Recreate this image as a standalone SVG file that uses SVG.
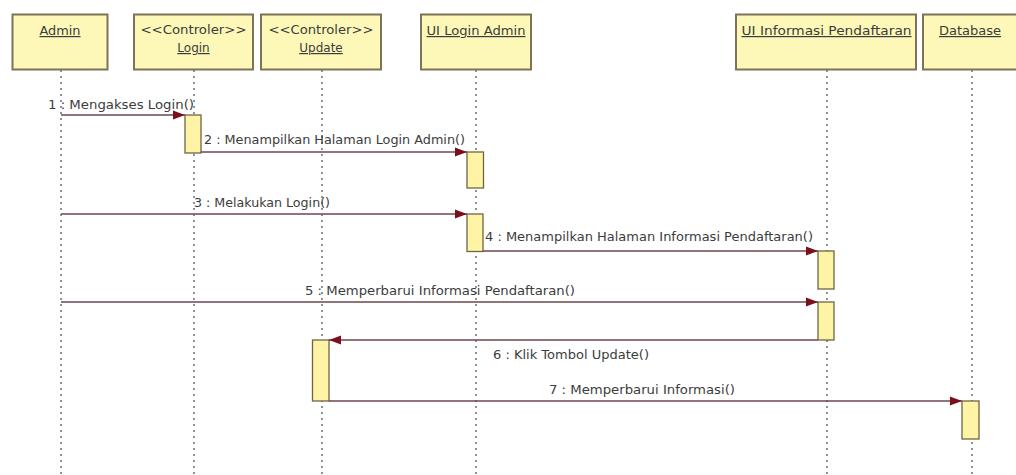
<svg xmlns="http://www.w3.org/2000/svg" width="1016" height="475" viewBox="0 0 1016 475">
  <style>
    .head { fill: #fdf8b8; stroke: #7e7258; stroke-width: 2; }
    .life { stroke: #4a4a4a; stroke-width: 1.2; stroke-dasharray: 2 4; fill: none; }
    .act { fill: #fff3a6; stroke: #6f6446; stroke-width: 1.3; }
    .msg { stroke: #6f474c; stroke-width: 1.5; fill: none; marker-end: url(#arrow); }
    .name { font-family: "DejaVu Sans", "Liberation Sans", sans-serif; font-size: 12px; fill: #3c3c3c; text-anchor: middle; text-decoration: underline; }
    .stereo { font-family: "DejaVu Sans", "Liberation Sans", sans-serif; font-size: 12px; fill: #3c3c3c; text-anchor: middle; }
    .lbl { font-family: "DejaVu Sans", "Liberation Sans", sans-serif; font-size: 12px; fill: #3c3c3c; }
  </style>
  <defs>
    <marker id="arrow" markerUnits="userSpaceOnUse" markerWidth="12" markerHeight="10" refX="12" refY="5" orient="auto">
      <path d="M0,0.5 L12,5 L0,9.5 Z" fill="#7c0f1e"/>
    </marker>
  </defs>

  <rect width="1016" height="475" fill="#ffffff"/>

  <!-- lifelines with header boxes and activation bars -->
  <g id="admin">
    <line class="life" x1="61" y1="70" x2="61" y2="475"/>
    <rect class="head" x="12.5" y="14.5" width="95" height="55"/>
    <text class="name" x="60" y="35" textLength="41" lengthAdjust="spacingAndGlyphs">Admin</text>
  </g>

  <g id="controler-login">
    <line class="life" x1="194" y1="70" x2="194" y2="475"/>
    <rect class="head" x="134" y="14.5" width="119" height="55"/>
    <text class="stereo" x="193.5" y="34" textLength="106" lengthAdjust="spacingAndGlyphs">&lt;&lt;Controler&gt;&gt;</text>
    <text class="name" x="193.5" y="52">Login</text>
    <rect class="act" x="185" y="115" width="16" height="38"/>
  </g>

  <g id="controler-update">
    <line class="life" x1="322" y1="70" x2="322" y2="475"/>
    <rect class="head" x="261" y="14.5" width="120" height="55"/>
    <text class="stereo" x="321" y="34" textLength="105" lengthAdjust="spacingAndGlyphs">&lt;&lt;Controler&gt;&gt;</text>
    <text class="name" x="321" y="52">Update</text>
    <rect class="act" x="312.5" y="340" width="16.5" height="61"/>
  </g>

  <g id="ui-login-admin">
    <line class="life" x1="476" y1="70" x2="476" y2="475"/>
    <rect class="head" x="421" y="14.5" width="110" height="55"/>
    <text class="name" x="476" y="35" textLength="99" lengthAdjust="spacingAndGlyphs">UI Login Admin</text>
    <rect class="act" x="467" y="152" width="16.5" height="36"/>
    <rect class="act" x="467" y="214" width="16" height="37.5"/>
  </g>

  <g id="ui-informasi-pendaftaran">
    <line class="life" x1="827" y1="70" x2="827" y2="475"/>
    <rect class="head" x="736" y="14.5" width="180" height="55"/>
    <text class="name" x="826.5" y="35" textLength="170" lengthAdjust="spacingAndGlyphs">UI Informasi Pendaftaran</text>
    <rect class="act" x="818" y="251" width="16" height="38"/>
    <rect class="act" x="818" y="302" width="16" height="38"/>
  </g>

  <g id="database">
    <line class="life" x1="972" y1="70" x2="972" y2="475"/>
    <rect class="head" x="923" y="14.5" width="98" height="55"/>
    <text class="name" x="970" y="35" textLength="62" lengthAdjust="spacingAndGlyphs">Database</text>
    <rect class="act" x="962" y="401" width="17" height="38"/>
  </g>

  <!-- messages -->
  <g id="messages">
    <line class="msg" x1="61" y1="115" x2="185" y2="115"/>
    <text class="lbl" x="48" y="109" textLength="146" lengthAdjust="spacingAndGlyphs">1 : Mengakses Login()</text>

    <line class="msg" x1="201" y1="152" x2="467" y2="152"/>
    <text class="lbl" x="204" y="144" textLength="261" lengthAdjust="spacingAndGlyphs">2 : Menampilkan Halaman Login Admin()</text>

    <line class="msg" x1="61" y1="214" x2="467" y2="214"/>
    <text class="lbl" x="194" y="207" textLength="136" lengthAdjust="spacingAndGlyphs">3 : Melakukan Login()</text>

    <line class="msg" x1="483" y1="251" x2="818" y2="251"/>
    <text class="lbl" x="485" y="241" textLength="328" lengthAdjust="spacingAndGlyphs">4 : Menampilkan Halaman Informasi Pendaftaran()</text>

    <line class="msg" x1="61" y1="302" x2="818" y2="302"/>
    <text class="lbl" x="305" y="295" textLength="270" lengthAdjust="spacingAndGlyphs">5 : Memperbarui Informasi Pendaftaran()</text>

    <line class="msg" x1="818" y1="340" x2="329" y2="340"/>
    <text class="lbl" x="493" y="359" textLength="156" lengthAdjust="spacingAndGlyphs">6 : Klik Tombol Update()</text>

    <line class="msg" x1="329" y1="401" x2="962" y2="401"/>
    <text class="lbl" x="549" y="394" textLength="186" lengthAdjust="spacingAndGlyphs">7 : Memperbarui Informasi()</text>
  </g>
</svg>
